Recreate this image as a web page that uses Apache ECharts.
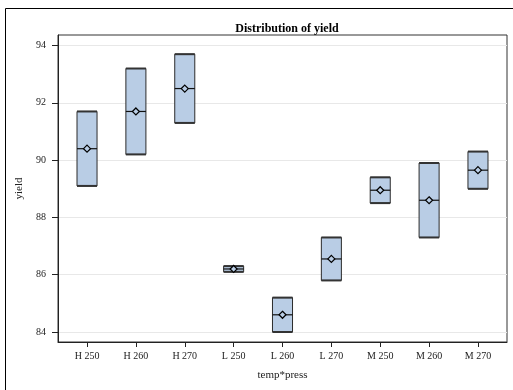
<!DOCTYPE html>
<html>
<head>
<meta charset="utf-8">
<script src="https://cdn.jsdelivr.net/npm/echarts@6/dist/echarts.min.js"></script>
<style>html,body{margin:0;padding:0;background:#fff}#c{width:513px;height:390px}</style>
</head>
<body>
<div id="c"></div>
<script>
const categories = ['H 250','H 260','H 270','L 250','L 260','L 270','M 250','M 260','M 270'];
const lowValues = [89.1, 90.2, 91.3, 86.1, 84.0, 85.8, 88.5, 87.3, 89.0];
const highValues = [91.7, 93.2, 93.7, 86.3, 85.2, 87.3, 89.4, 89.9, 90.3];
const medianValues = [90.4, 91.7, 92.5, 86.2, 84.6, 86.55, 88.95, 88.6, 89.65];
const meanValues = [90.4, 91.7, 92.5, 86.2, 84.6, 86.55, 88.95, 88.6, 89.65];
const yTicks = [84, 86, 88, 90, 92, 94];

const data = categories.map((c, i) => [i, lowValues[i], highValues[i], medianValues[i], meanValues[i]]);
const catIdx = categories.map((c, i) => i);
const FONT = '"Liberation Serif", "DejaVu Serif", serif';

const chart = echarts.init(document.getElementById('c'), null, {renderer: 'canvas'});
chart.setOption({
  animation: false,
  backgroundColor: '#fff',
  title: {
    text: 'Distribution of yield',
    left: 282, top: 18, textAlign: 'center',
    textStyle: {fontFamily: FONT, fontSize: 12, fontWeight: 'bold', color: '#000'}
  },
  graphic: [{
    type: 'rect', silent: true, z: -1,
    shape: {x: 5.5, y: 8.5, width: 520, height: 400},
    style: {fill: 'none', stroke: '#000', lineWidth: 1}
  }],
  grid: {left: 58, top: 35, right: 6, bottom: 48, show: true, borderColor: '#333', borderWidth: 1, backgroundColor: 'transparent'},
  xAxis: {
    type: 'value', min: -0.594, max: 8.594,
    name: 'temp*press', nameLocation: 'middle', nameGap: 28,
    nameTextStyle: {fontFamily: FONT, fontSize: 11, color: '#222'},
    axisLine: {show: true, onZero: false, lineStyle: {color: '#222'}},
    axisTick: {show: true, customValues: catIdx, length: 5, lineStyle: {color: '#222'}},
    axisLabel: {customValues: catIdx, margin: 9, fontFamily: FONT, fontSize: 10, color: '#222',
      formatter: v => categories[Math.round(v)] || ''},
    splitLine: {show: false}
  },
  yAxis: {
    type: 'value', min: 83.65, max: 94.37, splitNumber: 5,
    name: 'yield', nameLocation: 'middle', nameGap: 31, nameRotate: 90,
    nameTextStyle: {fontFamily: FONT, fontSize: 11, color: '#222'},
    axisLine: {show: true, onZero: false, lineStyle: {color: '#222'}},
    axisTick: {show: true, customValues: yTicks, length: 6, lineStyle: {color: '#222'}},
    axisLabel: {customValues: yTicks, margin: 12, fontFamily: FONT, fontSize: 10, color: '#222'},
    splitLine: {show: true, lineStyle: {color: '#e8e8e8', width: 1}}
  },
  series: [{
    type: 'custom',
    data: data,
    encode: {x: 0, y: [1, 2, 3, 4]},
    renderItem: function (params, api) {
      const i = api.value(0);
      const lo = api.coord([i, api.value(1)]);
      const hi = api.coord([i, api.value(2)]);
      const med = api.coord([i, api.value(3)]);
      const mean = api.coord([i, api.value(4)]);
      const hw = api.size([0.41, 0])[0] / 2;
      const x = lo[0];
      const d = 3.5;
      return {
        type: 'group',
        children: [
          {type: 'rect', shape: {x: x - hw, y: hi[1], width: hw * 2, height: lo[1] - hi[1]},
            style: {fill: '#b9cde5', stroke: '#2b2b2b', lineWidth: 1}},
          {type: 'line', shape: {x1: x - hw, y1: hi[1], x2: x + hw, y2: hi[1]}, style: {stroke: '#333', lineWidth: 2}},
          {type: 'line', shape: {x1: x - hw, y1: lo[1], x2: x + hw, y2: lo[1]}, style: {stroke: '#333', lineWidth: 2}},
          {type: 'line', shape: {x1: x - hw, y1: med[1], x2: x + hw, y2: med[1]}, style: {stroke: '#111', lineWidth: 1.2}},
          {type: 'polygon', shape: {points: [[x, mean[1] - d], [x + d, mean[1]], [x, mean[1] + d], [x - d, mean[1]]]},
            style: {fill: '#b9cde5', stroke: '#000', lineWidth: 1.2}}
        ]
      };
    }
  }]
});
</script>
</body>
</html>
